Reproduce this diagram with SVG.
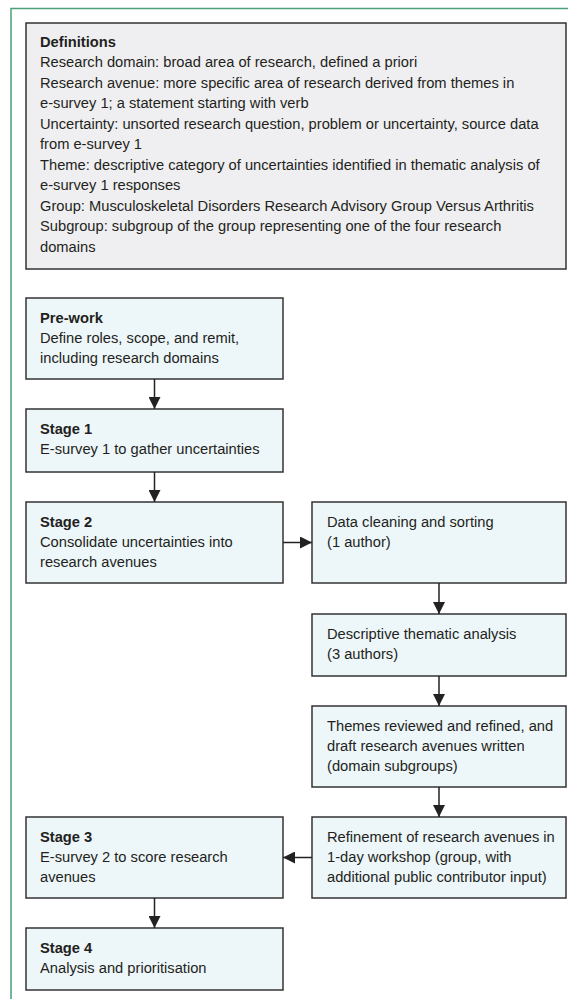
<svg xmlns="http://www.w3.org/2000/svg" width="568" height="999" viewBox="0 0 568 999">
<defs>
<style>
.frame{fill:none;stroke:#4a9e78;stroke-width:1.5}
.def{fill:#efeff1;stroke:#333;stroke-width:1.5}
.box{fill:#edf6f9;stroke:#333;stroke-width:1.5}
text{font-family:"Liberation Sans",Arial,sans-serif;font-size:14.7px;fill:#231f20}
.b{font-weight:bold}
.conn{fill:none;stroke:#222;stroke-width:1.5}
</style>
<marker id="ah" viewBox="0 0 12 12" refX="12" refY="6" markerWidth="12" markerHeight="12" markerUnits="userSpaceOnUse" orient="auto">
<path d="M0,0 L12,6 L0,12 Z" fill="#222"/>
</marker>
</defs>
<path class="frame" d="M11,999 L11,8.5 L568,8.5"/>
<g id="definitions">
<rect class="def" x="26" y="23" width="540" height="246"/>
<text x="40" y="46.5" class="b">Definitions</text>
<text x="40" y="67">Research domain: broad area of research, defined a priori</text>
<text x="40" y="87.5">Research avenue: more specific area of research derived from themes in</text>
<text x="40" y="108">e-survey 1; a statement starting with verb</text>
<text x="40" y="128.5">Uncertainty: unsorted research question, problem or uncertainty, source data</text>
<text x="40" y="149">from e-survey 1</text>
<text x="40" y="169.5">Theme: descriptive category of uncertainties identified in thematic analysis of</text>
<text x="40" y="190">e-survey 1 responses</text>
<text x="40" y="210.5">Group: Musculoskeletal Disorders Research Advisory Group Versus Arthritis</text>
<text x="40" y="231">Subgroup: subgroup of the group representing one of the four research</text>
<text x="40" y="251.5">domains</text>
</g>
<g id="prework">
<rect class="box" x="26" y="298" width="257" height="81"/>
<text x="40" y="323" class="b">Pre-work</text>
<text x="40" y="343">Define roles, scope, and remit,</text>
<text x="40" y="363">including research domains</text>
</g>
<g id="stage1">
<rect class="box" x="26" y="409" width="257" height="63"/>
<text x="40" y="434" class="b">Stage 1</text>
<text x="40" y="454">E-survey 1 to gather uncertainties</text>
</g>
<g id="stage2">
<rect class="box" x="26" y="502" width="257" height="81"/>
<text x="40" y="527" class="b">Stage 2</text>
<text x="40" y="547">Consolidate uncertainties into</text>
<text x="40" y="567">research avenues</text>
</g>
<g id="cleaning">
<rect class="box" x="312" y="502" width="254" height="81"/>
<text x="327" y="527">Data cleaning and sorting</text>
<text x="327" y="547">(1 author)</text>
</g>
<g id="thematic">
<rect class="box" x="312" y="614" width="254" height="62"/>
<text x="327" y="639">Descriptive thematic analysis</text>
<text x="327" y="659">(3 authors)</text>
</g>
<g id="themes">
<rect class="box" x="312" y="706" width="254" height="81"/>
<text x="327" y="731">Themes reviewed and refined, and</text>
<text x="327" y="751">draft research avenues written</text>
<text x="327" y="771">(domain subgroups)</text>
</g>
<g id="refinement">
<rect class="box" x="312" y="817" width="254" height="81"/>
<text x="327" y="842">Refinement of research avenues in</text>
<text x="327" y="862">1-day workshop (group, with</text>
<text x="327" y="882">additional public contributor input)</text>
</g>
<g id="stage3">
<rect class="box" x="26" y="817" width="257" height="81"/>
<text x="40" y="842" class="b">Stage 3</text>
<text x="40" y="862">E-survey 2 to score research</text>
<text x="40" y="882">avenues</text>
</g>
<g id="stage4">
<rect class="box" x="26" y="928" width="257" height="62"/>
<text x="40" y="953" class="b">Stage 4</text>
<text x="40" y="973">Analysis and prioritisation</text>
</g>
<g id="connectors">
<path class="conn" d="M154.5,379 L154.5,409" marker-end="url(#ah)"/>
<path class="conn" d="M154.5,472 L154.5,502" marker-end="url(#ah)"/>
<path class="conn" d="M283,542.5 L312,542.5" marker-end="url(#ah)"/>
<path class="conn" d="M439,583 L439,614" marker-end="url(#ah)"/>
<path class="conn" d="M439,676 L439,706" marker-end="url(#ah)"/>
<path class="conn" d="M439,787 L439,817" marker-end="url(#ah)"/>
<path class="conn" d="M312,857.5 L283,857.5" marker-end="url(#ah)"/>
<path class="conn" d="M154.5,898 L154.5,928" marker-end="url(#ah)"/>
</g>
</svg>
